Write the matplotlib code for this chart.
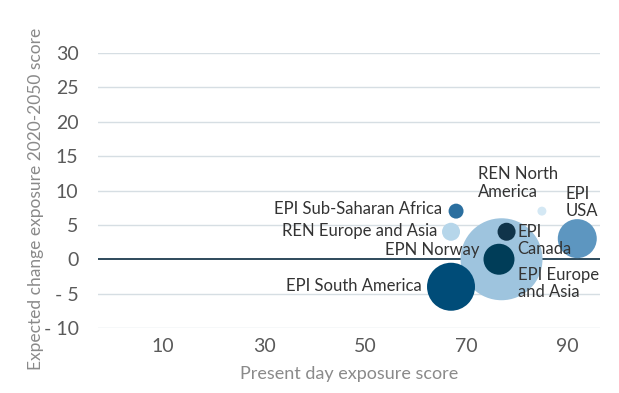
import numpy as np
import matplotlib
matplotlib.use('Agg')
import matplotlib.pyplot as plt

plt.rcParams['font.family'] = ['Lato', 'DejaVu Sans']

# bubble data: present-day score, expected change, bubble weight
labels = ['EPI Sub-Saharan Africa', 'REN Europe and Asia', 'REN North\nAmerica',
          'EPI\nCanada', 'EPN Norway', 'EPI Europe\nand Asia', 'EPI\nUSA',
          'EPI South America']
present = [68, 67, 85, 78, 76.5, 77, 92, 67]
change = [7, 4, 7, 4, 0, 0, 3, -4]
weight = [56, 81, 20, 81, 240, 1680, 380, 576]
colors = ['#2b6f9f', '#b6d6ea', '#d4e8f4', '#10344a', '#003d58', '#9ec4de',
          '#5d96c0', '#004c78']

xticks = [10, 30, 50, 70, 90]
yticks = [-10, -5, 0, 5, 10, 15, 20, 25, 30]
ytick_labels = ['- 10', '- 5', '0', '5', '10', '15', '20', '25', '30']

# label placement: offset from bubble centre (pixels), alignment
label_off = [(-14, 2, 'right'), (-14, 1, 'right'), (-64, 28, 'left'),
             (11, -9, 'left'), (-19, 9, 'right'), (16, -24, 'left'),
             (-12, 36, 'left'), (-29, 1, 'right')]

fig = plt.figure(figsize=(6.19, 3.93), dpi=100)
ax = fig.add_axes([98 / 619, 1 - 328 / 393, 502 / 619, 275 / 393])
ax.set_xlim(-2.9, 96.5)
ax.set_ylim(-10, 30)

for y in yticks:
    if y == 0:
        continue
    ax.axhline(y, color='#d6dee3', lw=1.0, zorder=0)
ax.axhline(0, color='#1d3b4e', lw=1.3, zorder=1)

px2pt = 72 / fig.dpi
sizes = np.array(weight) * (2 * px2pt) ** 2
# biggest bubbles underneath
order = np.argsort(sizes)[::-1]
for i in order:
    ax.scatter(present[i], change[i], s=sizes[i], color=colors[i],
               edgecolors='none', zorder=2, clip_on=False)

for i, lab in enumerate(labels):
    dx, dy, ha = label_off[i]
    ax.annotate(lab, (present[i], change[i]), xytext=(dx * px2pt, dy * px2pt),
                textcoords='offset points', ha=ha, va='center',
                fontsize=12, color='#333333', zorder=3, linespacing=1.1)

ax.set_xticks(xticks)
ax.set_yticks(yticks)
ax.set_yticklabels(ytick_labels)
ax.tick_params(length=0, labelsize=14, colors='#5a5a5a', pad=7)
ax.tick_params(axis='y', pad=14)
for s in ax.spines.values():
    s.set_visible(False)

ax.set_xlabel('Present day exposure score', fontsize=13, color='#8a8a8a',
              labelpad=8)
fig.text(36 / 619, 1 - 199 / 393, 'Expected change exposure 2020-2050 score',
         rotation=90, ha='center', va='center', fontsize=12.5, color='#8a8a8a')

fig.savefig('out.png', dpi=100)
